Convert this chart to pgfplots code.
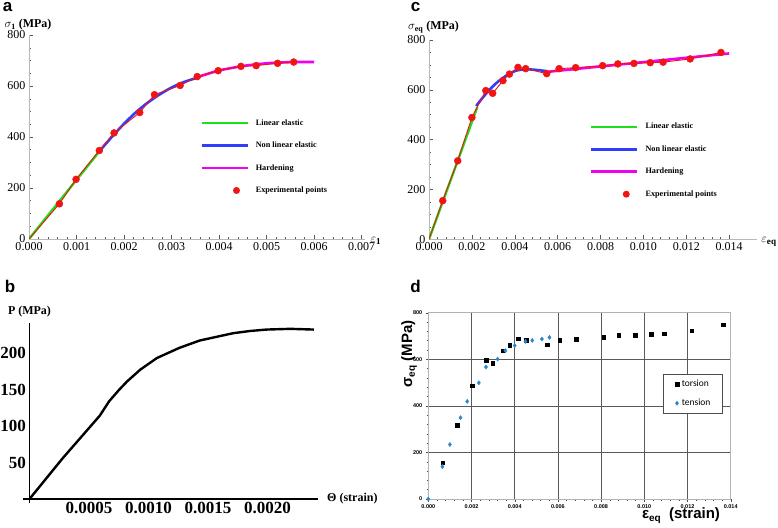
\documentclass[border=0pt]{standalone}
\usepackage{pgfplots}
\pgfplotsset{compat=1.18}
\usepackage{fontspec}
\setmainfont{Liberation Serif}
\newfontfamily\arial{Liberation Sans}
\newfontfamily\calib{Carlito}
\definecolor{mgreen}{RGB}{30,222,30}
\definecolor{mblue}{RGB}{50,60,255}
\definecolor{mmag}{RGB}{240,0,240}
\definecolor{mred}{RGB}{240,20,20}
\definecolor{tblue}{RGB}{40,135,205}
\pgfplotsset{
  mathaxis/.style={
    scale only axis,
    axis lines=left,
    axis line style={-, gray!55, line width=0.6pt},
    tick align=inside,
    major tick length=4pt, minor tick length=2pt,
    tick style={gray!70!black, line width=0.5pt},
    minor x tick num=4, minor y tick num=3,
    scaled x ticks=false,
    x tick label style={/pgf/number format/fixed, /pgf/number format/fixed zerofill, /pgf/number format/precision=3},
    tick label style={font=\fontsize{12}{12}\selectfont},
    /pgf/number format/assume math mode=true,
    legend cell align=left,
    legend style={anchor=north west, draw=none, fill=none,
      font=\bfseries\fontsize{8.2}{9}\selectfont,
      column sep=7pt, row sep=15.3pt, nodes={inner sep=0pt}},
  },
  lineleg/.style={legend image code/.code={\draw[##1] (0pt,0pt) -- (46pt,0pt);}},
}
\begin{document}
\begin{tikzpicture}
\path[use as bounding box] (0pt,0pt) rectangle (778pt,527pt);

% ---------------- panel a
\begin{axis}[mathaxis,
  at={(29pt,288pt)}, anchor=south west,
  width=336pt, height=204pt,
  xmin=0, xmax=0.00707, ymin=0, ymax=800,
  xtick={0,0.001,0.002,0.003,0.004,0.005,0.006,0.007},
  ytick={0,200,400,600,800},
  legend style={at={(0.50,0.597)}},
]
\addplot[mgreen, line width=2.4pt, lineleg] coordinates {(0,0) (0.0015,348)};
\addlegendentry{Linear elastic}
\addplot[mblue, line width=2.6pt, smooth, lineleg] coordinates {
(0.0015,348) (0.00175,402) (0.002,452) (0.00225,497) (0.0025,535) (0.00275,567) (0.003,594) (0.00325,615) (0.0035,630) (0.0036,636)};
\addlegendentry{Non linear elastic}
\addplot[mmag, line width=2.6pt, smooth, lineleg] coordinates {
(0.0035,632) (0.0038,650) (0.004,661) (0.0043,672) (0.0046,681) (0.005,689) (0.0053,692) (0.0056,694) (0.006,694)};
\addlegendentry{Hardening}
\addplot[mred, line width=0.9pt, forget plot] coordinates {
(0,0) (0.00064,138) (0.00099,234) (0.00148,347) (0.00179,416) (0.00233,496) (0.00264,566) (0.00318,602) (0.00354,637) (0.00398,660) (0.00446,677) (0.00478,680) (0.00523,689) (0.00557,694)};
\addplot[only marks, mark=*, mark size=3.5pt, mred, draw=none,
  legend image code/.code={\path (0pt,0pt) -- (46pt,0pt); \fill[mred] (35pt,0pt) circle (3.5pt);}] coordinates {
(0.00064,138) (0.00099,234) (0.00148,347) (0.00179,416) (0.00233,496) (0.00264,566) (0.00318,602) (0.00354,637) (0.00398,660) (0.00446,677) (0.00478,680) (0.00523,689) (0.00557,694)};
\addlegendentry{Experimental points}
\end{axis}

% ---------------- panel c
\begin{axis}[mathaxis,
  at={(429pt,287.7pt)}, anchor=south west,
  width=328pt, height=199.3pt,
  xmin=0, xmax=0.0153, ymin=0, ymax=800,
  xtick={0,0.002,0.004,0.006,0.008,0.010,0.012,0.014},
  ytick={0,200,400,600,800},
  legend style={at={(0.481,0.594)}},
]
\addplot[mgreen, line width=2.4pt, lineleg] coordinates {(0,0) (0.00225,530)};
\addlegendentry{Linear elastic}
\addplot[mblue, line width=2.6pt, smooth, lineleg] coordinates {
(0.0022,535) (0.0025,568) (0.0028,598) (0.0031,624) (0.0034,645) (0.0037,662) (0.004,675) (0.0043,681) (0.0047,682) (0.0051,679) (0.0055,675)};
\addlegendentry{Non linear elastic}
\addplot[mmag, line width=2.6pt, lineleg] coordinates {(0.0055,672) (0.0140,746)};
\addlegendentry{Hardening}
\addplot[mred, line width=0.9pt, forget plot] coordinates {
(0,0) (0.00064,155) (0.00134,315) (0.002,489) (0.00265,597) (0.00297,586) (0.00345,637) (0.00375,663) (0.00415,690) (0.00451,685) (0.00549,665) (0.00607,685) (0.00684,689) (0.0081,697) (0.00881,704) (0.00956,706) (0.01032,709) (0.01092,711) (0.01218,724) (0.01362,750)};
\addplot[only marks, mark=*, mark size=3.5pt, mred, draw=none,
  legend image code/.code={\path (0pt,0pt) -- (46pt,0pt); \fill[mred] (35pt,0pt) circle (3.5pt);}] coordinates {
(0.00064,155) (0.00134,315) (0.002,489) (0.00265,597) (0.00297,586) (0.00345,637) (0.00375,663) (0.00415,690) (0.00451,685) (0.00549,665) (0.00607,685) (0.00684,689) (0.0081,697) (0.00881,704) (0.00956,706) (0.01032,709) (0.01092,711) (0.01218,724) (0.01362,750)};
\addlegendentry{Experimental points}
\end{axis}

% ---------------- panel b
\begin{axis}[
  at={(23pt,24pt)}, anchor=south west, scale only axis,
  width=295pt, height=180pt,
  xmin=-0.0000546, xmax=0.002424, ymin=-5.5, ymax=241,
  axis lines=middle,
  axis line style={-, black, line width=1.3pt},
  xtick={0.0005,0.001,0.0015,0.002},
  ytick={50,100,150,200},
  major tick length=0pt, minor tick length=0pt,
  scaled x ticks=false,
  x tick label style={/pgf/number format/fixed, /pgf/number format/fixed zerofill, /pgf/number format/precision=4},
  tick label style={font=\bfseries\fontsize{17}{17}\selectfont},
  /pgf/number format/assume math mode=true,
]
\addplot[black, line width=2.4pt] coordinates {
(0,0) (0.00028,56) (0.00059,114) (0.00067,134) (0.00075,149) (0.00082,161) (0.00093,177) (0.00107,193) (0.00126,207) (0.00143,217) (0.00157,222) (0.00171,227) (0.00185,230) (0.00199,232) (0.00219,233) (0.00239,232)};
\end{axis}

% ---------------- panel d
\begin{axis}[
  at={(428.3pt,28pt)}, anchor=south west, scale only axis,
  width=302.4pt, height=186.3pt,
  xmin=0, xmax=0.014, ymin=0, ymax=800,
  xtick={0,0.002,0.004,0.006,0.008,0.010,0.012,0.014},
  ytick={0,200,400,600,800},
  minor x tick num=4, minor y tick num=4,
  grid=major, major grid style={gray!70!black, line width=0.6pt},
  axis line style={gray!60, line width=0.6pt},
  tick align=outside, xtick pos=bottom, ytick pos=left,
  major tick length=2.5pt, minor tick length=1.5pt,
  tick style={gray!60!black, line width=0.4pt},
  scaled x ticks=false,
  x tick label style={/pgf/number format/fixed, /pgf/number format/fixed zerofill, /pgf/number format/precision=3},
  tick label style={font=\arial\bfseries\fontsize{5.5}{6}\selectfont},
  /pgf/number format/assume math mode=true,
  legend cell align=left,
  legend style={at={(0.776,0.671)}, anchor=north west, draw=gray!60!black, fill=white,
    font=\calib\fontsize{9.5}{10}\selectfont, inner xsep=12pt, inner ysep=6pt,
    row sep=11pt, column sep=3pt, nodes={inner sep=0pt}},
  legend image code/.code={\draw[#1] plot coordinates {(0pt,0pt)};},
]
\addplot[only marks, mark=square*, mark size=1.8pt, black] coordinates {
(0.00066,156) (0.00135,316) (0.00202,487) (0.00267,596) (0.00299,584) (0.00346,637) (0.00377,661) (0.00417,689) (0.00453,683) (0.0055,663) (0.00609,683) (0.00685,687) (0.00812,696) (0.00882,703) (0.00958,704) (0.01033,707) (0.01093,710) (0.0122,723) (0.01364,749)};
\addlegendentry{torsion}
\addplot[only marks, mark=diamond*, mark size=2.1pt, tblue] coordinates {
(0,0) (0.00065,139) (0.001,234) (0.00149,349) (0.0018,419) (0.00234,499) (0.00267,567) (0.00321,601) (0.00357,637) (0.004,659) (0.0045,677) (0.00481,681) (0.00526,687) (0.00561,694)};
\addlegendentry{tension}
\end{axis}

% ---------------- texts
\node[font=\arial\bfseries\fontsize{17}{17}\selectfont, anchor=base, inner sep=0pt] at (7.5pt,515pt) {a};
\node[font=\arial\bfseries\fontsize{17}{17}\selectfont, anchor=base, inner sep=0pt] at (415.5pt,515pt) {c};
\node[font=\arial\bfseries\fontsize{17}{17}\selectfont, anchor=base, inner sep=0pt] at (10pt,234pt) {b};
\node[font=\arial\bfseries\fontsize{17}{17}\selectfont, anchor=base, inner sep=0pt] at (415.5pt,234pt) {d};

\node[font=\fontsize{12}{12}\selectfont, inner sep=0pt] at (28pt,502pt) {$\sigma_{\mathbf{1}}$ \textbf{(MPa)}};
\node[font=\fontsize{13}{13}\selectfont, inner sep=0pt] at (376pt,286pt) {$\varepsilon_{\mathbf{1}}$};
\node[font=\fontsize{12}{12}\selectfont, inner sep=0pt] at (433.5pt,500pt) {$\sigma_{\mathbf{eq}}$ \textbf{(MPa)}};
\node[font=\fontsize{13}{13}\selectfont, inner sep=0pt] at (769pt,285pt) {$\varepsilon_{\mathbf{eq}}$};

\node[font=\bfseries\fontsize{12}{12}\selectfont, inner sep=0pt] at (29.5pt,215.3pt) {P (MPa)};
\node[font=\bfseries\fontsize{12}{12}\selectfont, inner sep=0pt, anchor=west] at (327pt,28pt) {Θ (strain)};

\node[font=\arial\bfseries\fontsize{15}{15}\selectfont, rotate=90, inner sep=0pt] at (409pt,173pt) {σ\raisebox{-0.35ex}{\fontsize{10}{10}\selectfont eq} (MPa)};
\node[font=\arial\bfseries\fontsize{15}{15}\selectfont, inner sep=0pt] at (681pt,11.5pt) {ε\raisebox{-0.45ex}{\fontsize{10}{10}\selectfont eq}\ \ (strain)};
\end{tikzpicture}
\end{document}
